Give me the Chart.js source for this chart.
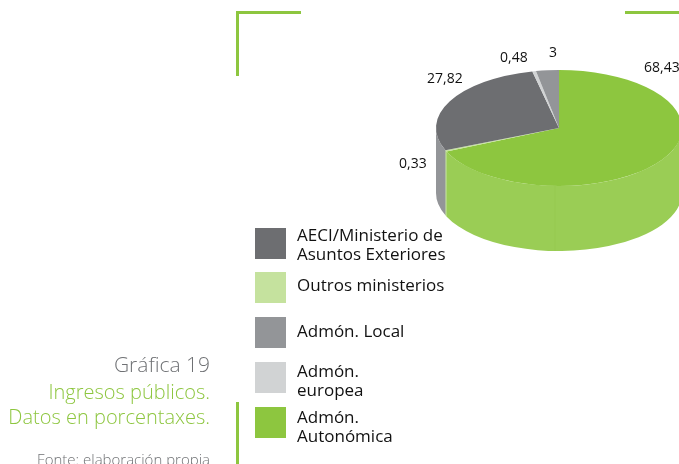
<!DOCTYPE html>
<html>
<head>
<meta charset="utf-8">
<title>Gráfica 19</title>
<script src="https://cdn.jsdelivr.net/npm/chart.js@4/dist/chart.umd.min.js"></script>
<style>
    html, body { margin: 0; padding: 0; background: #fff; }
    body { position: relative; width: 679px; height: 464px; overflow: hidden; font-family: "Open Sans", "Noto Sans", sans-serif; }
    canvas { position: absolute; left: 0; top: 0; }
    .rule { position: absolute; background: #8dc63f; }
    .value { position: absolute; font-size: 14px; line-height: 18px; color: #111; white-space: nowrap; }
    .swatch { position: absolute; left: 255px; width: 31px; height: 31px; }
    .legend-text { position: absolute; left: 297px; font-size: 17px; line-height: 18.7px; color: #111; white-space: nowrap; }
    .caption { position: absolute; right: 469px; text-align: right; white-space: nowrap; font-weight: 300; }
</style>
</head>
<body>
<canvas id="pie" width="760" height="464"></canvas>

<div class="rule" style="left:236px;top:11px;width:2.5px;height:65px"></div>
<div class="rule" style="left:236px;top:11px;width:65px;height:2.5px"></div>
<div class="rule" style="left:625px;top:11px;width:54px;height:2.5px"></div>
<div class="rule" style="left:236px;top:402px;width:2.5px;height:62px"></div>

<div class="caption" style="top:351px;font-size:21px;line-height:26px;color:#6f7174">Gráfica 19</div>
<div class="caption" style="top:379px;font-size:20px;line-height:26px;color:#8dc63f">Ingresos públicos.</div>
<div class="caption" style="top:404px;font-size:20px;line-height:26px;color:#8dc63f">Datos en porcentaxes.</div>
<div class="caption" style="top:449px;font-size:15px;line-height:20px;color:#6f7174">Fonte: elaboración propia</div>

<div id="values"></div>
<div id="legend"></div>

<script>
// clockwise from the top of the pie
const categories = ["Admón. Autonómica", "Outros ministerios", "AECI/Ministerio de Asuntos Exteriores", "Admón. europea", "Admón. Local"];
const values = [68.43, 0.33, 27.82, 0.48, 3];

const legendOrder = [2, 1, 4, 3, 0];
const legendLines = [["Admón.", "Autonómica"], ["Outros ministerios"], ["AECI/Ministerio de", "Asuntos Exteriores"], ["Admón.", "europea"], ["Admón. Local"]];

const topColors = ["#8dc63f", "#c5e29e", "#6d6e71", "#d1d3d4", "#939598"];
const sideColors = ["#9acd55", "#9acd55", "#939598", "#d1d3d4", "#939598"];

// left / top of each value label, hand placed like in the original
const valueSpots = [[644, 58], [399, 154], [427, 69], [500, 48], [549, 43]];

// the legend rows are not quite evenly spaced in the original
const swatchTops = [228, 272, 317, 362, 407];
const textTops = [226, 276, 322, 362, 408];

const SQUASH = 58 / 123;
const DEPTH = 65;

// draws the wall under the pie, only the front half can be seen
function drawWall(ctx, arc, color) {
    const from = Math.max(arc.startAngle, 0);
    const to = Math.min(arc.endAngle, Math.PI);
    if (to <= from) return;

    const ry = arc.outerRadius * SQUASH;

    ctx.beginPath();
    ctx.ellipse(arc.x, arc.y, arc.outerRadius, ry, 0, from, to);
    ctx.ellipse(arc.x, arc.y + DEPTH, arc.outerRadius, ry, 0, to, from, true);
    ctx.closePath();
    ctx.fillStyle = color;
    ctx.fill();
}

const pie3d = {
    id: "pie3d",
    beforeDatasetsDraw(chart) {
        const ctx = chart.ctx;
        const arcs = chart.getDatasetMeta(0).data;

        arcs.forEach((arc, i) => drawWall(ctx, arc, sideColors[i]));

        // faint seam in the green wall
        const first = arcs[0];
        const seamX = first.x - 4;
        const seamTop = first.y + first.outerRadius * SQUASH;
        ctx.beginPath();
        ctx.moveTo(seamX, seamTop);
        ctx.lineTo(seamX, seamTop + DEPTH);
        ctx.strokeStyle = "#93c84d";
        ctx.lineWidth = 0.6;
        ctx.stroke();

        ctx.save();
        ctx.translate(first.x, first.y);
        ctx.scale(1, SQUASH);
        ctx.translate(-first.x, -first.y);
    },
    afterDatasetsDraw(chart) {
        chart.ctx.restore();
    }
};

function renderChart() {
    const ctx = document.getElementById("pie").getContext("2d");

    return new Chart(ctx, {
        type: "pie",
        data: {
            labels: categories,
            datasets: [{
                data: values,
                backgroundColor: topColors,
                borderWidth: 0,
                clip: false
            }]
        },
        options: {
            responsive: false,
            animation: false,
            layout: { padding: { left: 436, right: 78, top: 5, bottom: 213 } },
            plugins: {
                legend: { display: false },
                tooltip: { enabled: false }
            }
        },
        plugins: [pie3d]
    });
}

function renderValues() {
    const container = document.getElementById("values");

    values.forEach((value, i) => {
        const el = document.createElement("div");
        el.className = "value";
        el.style.left = valueSpots[i][0] + "px";
        el.style.top = valueSpots[i][1] + "px";
        el.textContent = String(value).replace(".", ",");
        container.appendChild(el);
    });
}

function renderLegend() {
    const container = document.getElementById("legend");

    legendOrder.forEach((index, row) => {
        const swatch = document.createElement("div");
        swatch.className = "swatch";
        swatch.style.top = swatchTops[row] + "px";
        swatch.style.background = topColors[index];
        container.appendChild(swatch);

        const text = document.createElement("div");
        text.className = "legend-text";
        text.style.top = textTops[row] + "px";
        text.innerHTML = legendLines[index].join("<br>");
        container.appendChild(text);
    });
}

renderChart();
renderValues();
renderLegend();
</script>
</body>
</html>
